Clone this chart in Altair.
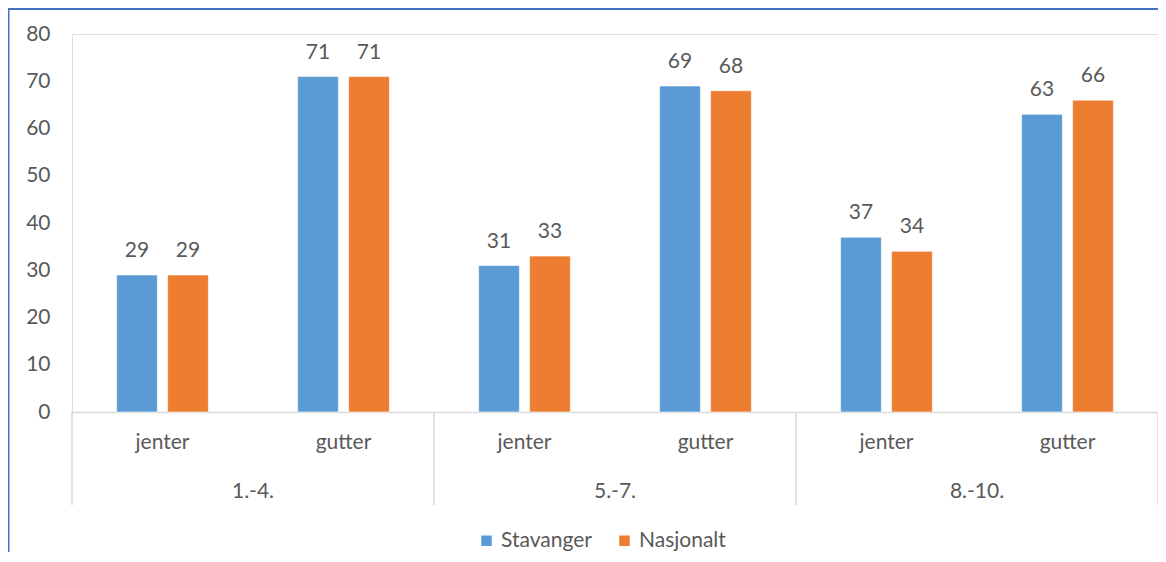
import altair as alt
import pandas as pd

groups = ["1.-4.", "5.-7.", "8.-10."]
subs = ["jenter", "gutter"]
series = ["Stavanger", "Nasjonalt"]
stavanger = [29, 71, 31, 69, 37, 63]
nasjonalt = [29, 71, 33, 68, 34, 66]
colors = ["#5B9BD5", "#ED7D31"]
y_ticks = [0, 10, 20, 30, 40, 50, 60, 70, 80]

keys = [f"{g} {s}" for g in groups for s in subs]
rows = []
for i, k in enumerate(keys):
    g, s = groups[i // 2], subs[i % 2]
    rows.append({"key": k, "group": g, "sub": s, "series": series[0], "value": stavanger[i]})
    rows.append({"key": k, "group": g, "sub": s, "series": series[1], "value": nasjonalt[i]})
df = pd.DataFrame(rows)
sub_df = pd.DataFrame({"key": keys, "sub": [subs[i % 2] for i in range(len(keys))]})
grp_df = pd.DataFrame({"key": [f"{g} gutter" for g in groups], "group": groups})
sep_df = pd.DataFrame({"key": [f"{g} jenter" for g in groups]})
last_df = pd.DataFrame({"key": [keys[-1]]})
one = pd.DataFrame({"a": [0]})

W, H = 1086, 378
TXT = "#595959"
FONT = "Lato"
FS = 21

xscale = alt.Scale(domain=keys, paddingInner=0, paddingOuter=0)
xoff = alt.XOffset("series:N", sort=series, scale=alt.Scale(domain=series, paddingInner=0.2, paddingOuter=0.875))

bars = alt.Chart(df).mark_bar(stroke="white", strokeWidth=0.6).encode(
    x=alt.X("key:N", scale=xscale, sort=keys,
            axis=alt.Axis(title=None, labels=False, ticks=False, domainColor="#D9D9D9", domainWidth=1.5)),
    xOffset=xoff,
    y=alt.Y("value:Q", scale=alt.Scale(domain=[0, 80], nice=False),
            axis=alt.Axis(title=None, values=y_ticks, grid=False, domain=False, ticks=False, tickSize=0,
                          labelPadding=22, labelColor=TXT, labelFontSize=FS, labelFont=FONT)),
    color=alt.Color("series:N", sort=series, scale=alt.Scale(domain=series, range=colors),
                    legend=alt.Legend(title=None, orient="none", legendX=404, legendY=496,
                                      direction="horizontal", symbolType="square", symbolSize=110,
                                      symbolStrokeWidth=0, labelFontSize=FS, labelFont=FONT,
                                      labelColor=TXT, labelOffset=4, columnPadding=22, padding=0)),
)

labels = alt.Chart(df).mark_text(baseline="alphabetic", dy=-18, fontSize=FS, font=FONT, color=TXT).encode(
    x=alt.X("key:N", scale=xscale, sort=keys),
    xOffset=xoff,
    y=alt.Y("value:Q"),
    text=alt.Text("value:Q"),
)

sub_text = alt.Chart(sub_df).mark_text(baseline="middle", fontSize=FS, font=FONT, color=TXT).encode(
    x=alt.X("key:N", scale=xscale, sort=keys),
    y=alt.value(H + 31),
    text="sub:N",
)

grp_text = alt.Chart(grp_df).mark_text(baseline="middle", fontSize=FS, font=FONT, color=TXT).encode(
    x=alt.X("key:N", scale=xscale, sort=keys, bandPosition=0),
    y=alt.value(H + 80),
    text="group:N",
)

seps = alt.Chart(sep_df).mark_rule(color="#D9D9D9", strokeWidth=1.5).encode(
    x=alt.X("key:N", scale=xscale, sort=keys, bandPosition=0),
    y=alt.value(H), y2=alt.value(H + 93),
)
last_sep = alt.Chart(last_df).mark_rule(color="#D9D9D9", strokeWidth=1.5).encode(
    x=alt.X("key:N", scale=xscale, sort=keys, bandPosition=1),
    y=alt.value(H), y2=alt.value(H + 93),
)

border_top = alt.Chart(one).mark_rule(color="#4472C4", strokeWidth=2).encode(
    x=alt.value(-64), x2=alt.value(W + 20), y=alt.value(-25),
)
border_left = alt.Chart(one).mark_rule(color="#4472C4", strokeWidth=2).encode(
    x=alt.value(-63.5), y=alt.value(-25), y2=alt.value(H + 160),
)

chart = alt.layer(bars, labels, sub_text, grp_text, seps, last_sep, border_top, border_left).properties(
    width=W, height=H,
    autosize=alt.AutoSizeParams(type="none"),
    padding={"left": 64, "top": 26, "right": 0, "bottom": 140},
).configure_view(stroke=None).configure(background="white")

chart.save("out.html", embed_options={"renderer": "svg", "actions": False})
